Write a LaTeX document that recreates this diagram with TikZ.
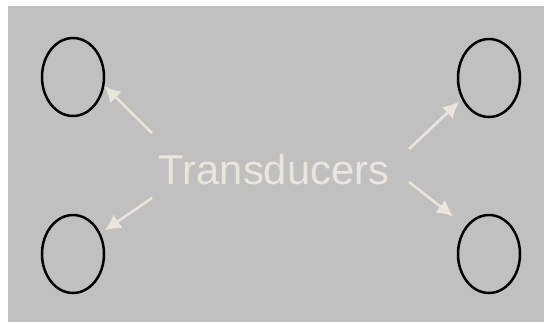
\documentclass[tikz,border=0pt]{standalone}
\usepackage{fontspec}
\setmainfont{Liberation Sans}
\usetikzlibrary{arrows.meta}
\usetikzlibrary{shapes.geometric}
\definecolor{panelgray}{HTML}{C0C0C0}
\definecolor{chalk}{HTML}{EAE6DD}
\tikzset{>={Latex[length=16pt,width=16pt]}}
\tikzset{transducer/.style={ellipse,draw=black,line width=2.5pt,
    minimum width=62pt,minimum height=78pt,inner sep=0pt}}
\tikzset{pointer/.style={->,draw=chalk,line width=2.5pt}}

\begin{document}
\begin{tikzpicture}[x=1pt,y=-1pt]
    \useasboundingbox (0,0) rectangle (544,322);
    \fill [panelgray] (8,6) rectangle (544,322);

    \node [transducer] (tl) at (73, 77) {};
    \node [transducer] (bl) at (73, 254) {};
    \node [transducer] (tr) at (489, 78) {};
    \node [transducer] (br) at (489, 254) {};

    \node [anchor=base,text=chalk,font=\fontsize{41.7}{48}\selectfont,
    inner sep=0pt] (label) at (274, 184) {Transducers};

    \coordinate (tltail) at (152, 133);
    \coordinate (bltail) at (152, 198);
    \coordinate (trtail) at (409, 149);
    \coordinate (brtail) at (409, 182);

    \draw [pointer] (tltail) -- (tl.-16);
    \draw [pointer, shorten >=5pt] (bltail) -- (bl.37);
    \draw [pointer, shorten >=3.5pt] (trtail) -- (tr.218);
    \draw [pointer, shorten >=16pt] (brtail) -- (br.130);
  \end{tikzpicture}
\end{document}
